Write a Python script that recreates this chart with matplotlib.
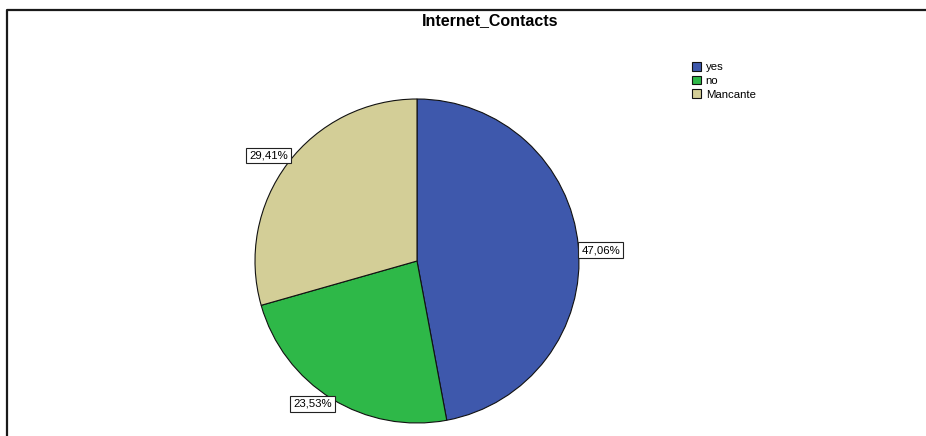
import matplotlib
matplotlib.use("Agg")
import matplotlib.pyplot as plt
from matplotlib.lines import Line2D
import numpy as np

plt.rcParams['font.family'] = ['Liberation Sans', 'DejaVu Sans']

# Internet_Contacts frequencies (percent)
labels = ['yes', 'no', 'Mancante']
values = [47.06, 23.53, 29.41]
colors = ['#3e58ac', '#2eb848', '#d3ce97']

W, H = 926, 436
fig = plt.figure(figsize=(W / 100, H / 100), dpi=100)
ax = fig.add_axes([0, 0, 1, 1])

cx, cy, r = 417, H - 261, 162
wedges, _ = ax.pie(values, colors=colors, startangle=90, counterclock=False,
                   center=(cx, cy), radius=r,
                   wedgeprops=dict(edgecolor='#111111', linewidth=0.8))
ax.set_xlim(0, W)
ax.set_ylim(0, H)
ax.set_aspect('auto')
ax.axis('off')

# percentage boxes just outside each wedge
for w, v in zip(wedges, values):
    mid = np.deg2rad((w.theta1 + w.theta2) / 2)
    c, s = np.cos(mid), np.sin(mid)
    x, y = cx + r * c, cy + r * s
    ha = 'left' if c > 0 else 'right'
    if abs(s) < 0.3:
        va = 'center'
        y -= 4
    elif s > 0:
        va = 'bottom'
        y += 3
    else:
        va = 'top'
    ax.text(x + (3 if c > 0 else 0), y, f"{v:.2f}%".replace('.', ','),
            ha=ha, va=va, fontsize=8.2,
            bbox=dict(boxstyle='square,pad=0.25', fc='white', ec='#222222', lw=0.8))

fig.text(490 / W, 1 - 21 / H, 'Internet_Contacts', ha='center', va='center',
         fontsize=11.5, fontweight='bold')

leg = fig.legend(wedges, labels, loc='upper left',
                 bbox_to_anchor=(692 / W, 1 - 62 / H), frameon=False,
                 fontsize=8.2, handlelength=0.75, handleheight=0.8,
                 handletextpad=0.45, labelspacing=0.3,
                 borderpad=0, borderaxespad=0)

# outer frame (top and left edges)
fig.add_artist(Line2D([7 / W, 7 / W, 1], [0, 1 - 10 / H, 1 - 10 / H],
                      transform=fig.transFigure, color='#1a1a1a', lw=1.6))

fig.savefig('out.png', dpi=100)
